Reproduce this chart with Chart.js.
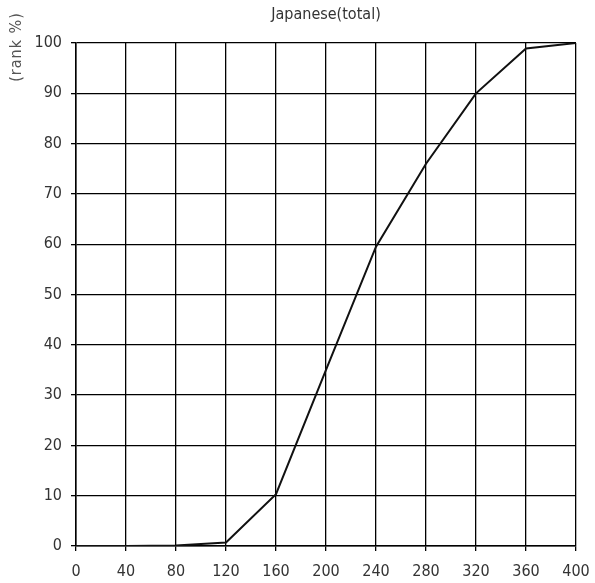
<!DOCTYPE html>
<html>
<head>
<meta charset="utf-8">
<script src="https://cdn.jsdelivr.net/npm/chart.js@4"></script>
<style>
html,body{margin:0;padding:0;background:#fff;}
#wrap{width:595px;height:583px;}
</style>
</head>
<body>
<div id="wrap"><canvas id="c" width="595" height="583"></canvas></div>
<script>
const chartTitle = 'Japanese(total)';
const yAxisTitle = '(rank %)';
const scores = [0, 40, 80, 120, 160, 200, 240, 280, 320, 360, 400];
const rankPct = [0, 0, 0.1, 0.7, 10.3, 35, 59.5, 76, 90, 98.9, 100];
const xTicks = [0, 40, 80, 120, 160, 200, 240, 280, 320, 360, 400];
const yTicks = [0, 10, 20, 30, 40, 50, 60, 70, 80, 90, 100];

const FONT = '"DejaVu Sans Condensed", "DejaVu Sans", sans-serif';
const TEXT = '#333';

const axisTitlePlugin = {
  id: 'axisTitle',
  afterDraw(chart) {
    const ctx = chart.ctx;
    ctx.save();
    ctx.translate(17, 47);
    ctx.rotate(-Math.PI / 2);
    ctx.fillStyle = '#555';
    ctx.font = '16px ' + FONT;
    if ('letterSpacing' in ctx) ctx.letterSpacing = '1px';
    ctx.textAlign = 'center';
    ctx.textBaseline = 'middle';
    ctx.fillText(yAxisTitle, 0, 0);
    ctx.restore();
  }
};

new Chart(document.getElementById('c'), {
  type: 'line',
  data: {
    datasets: [{
      data: scores.map((x, i) => ({ x: x, y: rankPct[i] })),
      borderColor: '#111',
      borderWidth: 2,
      pointRadius: 0,
      tension: 0,
      fill: false
    }]
  },
  options: {
    responsive: false,
    animation: false,
    layout: { padding: { left: 0, right: 19, top: 0, bottom: 0 } },
    plugins: {
      legend: { display: false },
      tooltip: { enabled: false },
      title: {
        display: true,
        text: chartTitle,
        fullSize: false,
        color: TEXT,
        font: { family: FONT, size: 16, weight: 'normal' },
        padding: { top: 5, bottom: 18.8 }
      }
    },
    scales: {
      x: {
        type: 'linear',
        min: 0, max: 400,
        afterBuildTicks: s => { s.ticks = xTicks.map(v => ({ value: v })); },
        afterFit: s => { s.height = 37; s.paddingLeft = 0; s.paddingRight = 0; },
        ticks: { color: TEXT, font: { family: FONT, size: 16 }, padding: 11, maxRotation: 0, autoSkip: false },
        grid: { color: '#000', lineWidth: 1.3, tickLength: 5, drawTicks: true },
        border: { color: '#000', width: 1.5 }
      },
      y: {
        min: 0, max: 100,
        afterBuildTicks: s => { s.ticks = yTicks.map(v => ({ value: v })); },
        afterFit: s => { s.width = 76; s.paddingTop = 0; s.paddingBottom = 0; },
        ticks: { color: TEXT, font: { family: FONT, size: 16 }, padding: 9, autoSkip: false },
        grid: { color: '#000', lineWidth: 1.3, tickLength: 5, drawTicks: true },
        border: { color: '#000', width: 1.5 }
      }
    }
  },
  plugins: [axisTitlePlugin]
});
</script>
</body>
</html>
